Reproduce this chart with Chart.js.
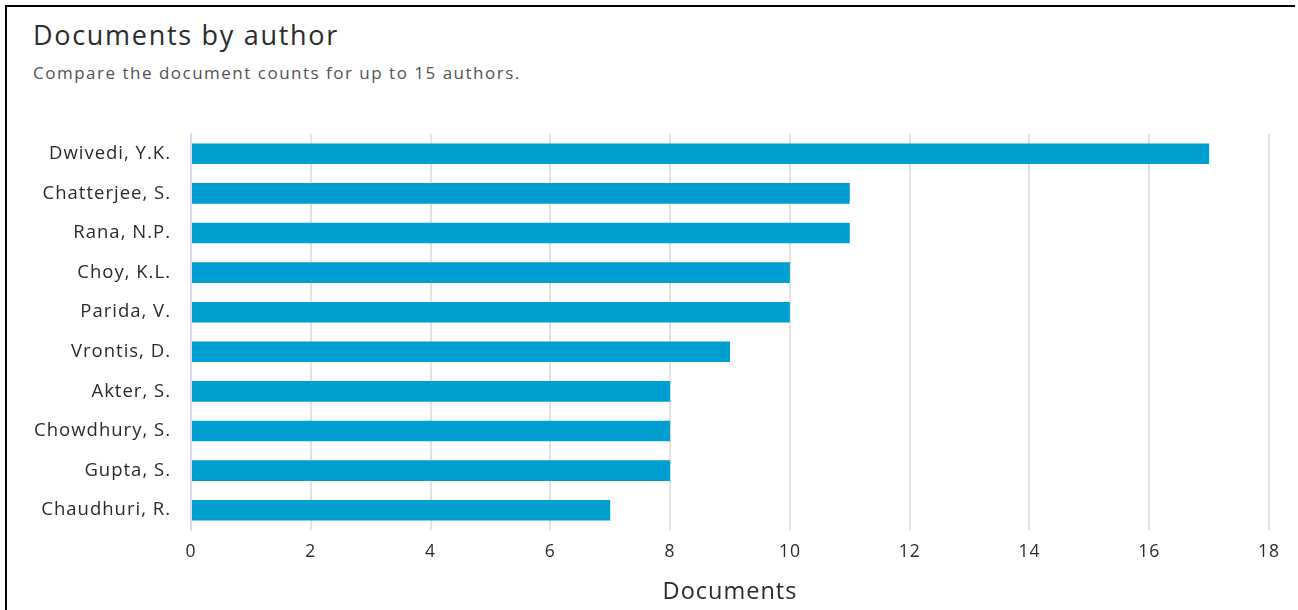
<!DOCTYPE html>
<html>
<head>
<meta charset="utf-8">
<script src="https://cdn.jsdelivr.net/npm/chart.js@4"></script>
<style>
  html, body { margin: 0; padding: 0; background: #fff; }
  body { width: 1298px; height: 610px; position: relative; overflow: hidden; font-family: "Open Sans", Lato, sans-serif; }
  .frame { position: absolute; left: 5px; top: 5px; width: 1288px; height: 620px; border-top: 2px solid #000; border-left: 2px solid #000; }
  .title { position: absolute; left: 33px; top: 16px; font-size: 27px; letter-spacing: 1.7px; color: #2b2b2b; }
  .subtitle { position: absolute; left: 33px; top: 61px; font-size: 17px; letter-spacing: 1.5px; color: #535353; }
  .chart-box { position: absolute; left: 0; top: 120px; width: 1298px; height: 490px; }
</style>
</head>
<body>
<div class="frame"></div>
<div class="title">Documents by author</div>
<div class="subtitle">Compare the document counts for up to 15 authors.</div>
<div class="chart-box"><canvas id="chart"></canvas></div>
<script>
// authors, top to bottom
const authors = [
  'Dwivedi, Y.K.', 'Chatterjee, S.', 'Rana, N.P.', 'Choy, K.L.', 'Parida, V.',
  'Vrontis, D.', 'Akter, S.', 'Chowdhury, S.', 'Gupta, S.', 'Chaudhuri, R.',
];
const documentCounts = [17, 11, 11, 10, 10, 9, 8, 8, 8, 7];
const xTicks = [0, 2, 4, 6, 8, 10, 12, 14, 16, 18];

const textColor = '#2b2b2b';
const barColor = '#009fd1';
const fontFamily = '"Open Sans", Lato, sans-serif';

// keep tick-label overhang from shifting the plot area
const noPadding = (scale) => {
  scale.paddingTop = 0; scale.paddingBottom = 0;
  scale.paddingLeft = 0; scale.paddingRight = 0;
};

// reference type is set wide; widen canvas text a little
const spacingPlugin = {
  id: 'letterSpacing',
  beforeUpdate: (chart) => { chart.ctx.letterSpacing = '1px'; },
  beforeDraw: (chart) => { chart.ctx.letterSpacing = '1px'; },
};

new Chart(document.getElementById('chart'), {
  type: 'bar',
  data: {
    labels: authors,
    datasets: [{
      label: 'Documents',
      data: documentCounts,
      backgroundColor: barColor,
      borderWidth: 0,
      categoryPercentage: 1,
      barPercentage: 0.52,
    }],
  },
  plugins: [spacingPlugin],
  options: {
    indexAxis: 'y',
    responsive: true,
    maintainAspectRatio: false,
    animation: false,
    layout: { padding: { top: 14, right: 29, left: 0, bottom: 0 } },
    plugins: { legend: { display: false }, tooltip: { enabled: false } },
    scales: {
      x: {
        min: 0, max: 18,
        afterBuildTicks: (scale) => { scale.ticks = xTicks.map((v) => ({ value: v })); },
        afterFit: (scale) => { noPadding(scale); scale.height = 80; },
        grid: { color: '#e2e2e2', lineWidth: 2, drawTicks: false },
        border: { display: false },
        ticks: { color: textColor, padding: 12, font: { family: fontFamily, size: 17.5, weight: '500' } },
        title: {
          display: true, text: 'Documents', color: textColor,
          font: { family: fontFamily, size: 23.5, weight: '500' }, padding: { top: 8, bottom: 4 },
        },
      },
      y: {
        afterFit: (scale) => { noPadding(scale); scale.width = 191; },
        grid: { display: false, drawTicks: false },
        border: { display: true, color: '#d9ddef', width: 2 },
        ticks: { color: textColor, padding: 20, font: { family: fontFamily, size: 18.5, weight: '500' } },
      },
    },
  },
});
</script>
</body>
</html>
